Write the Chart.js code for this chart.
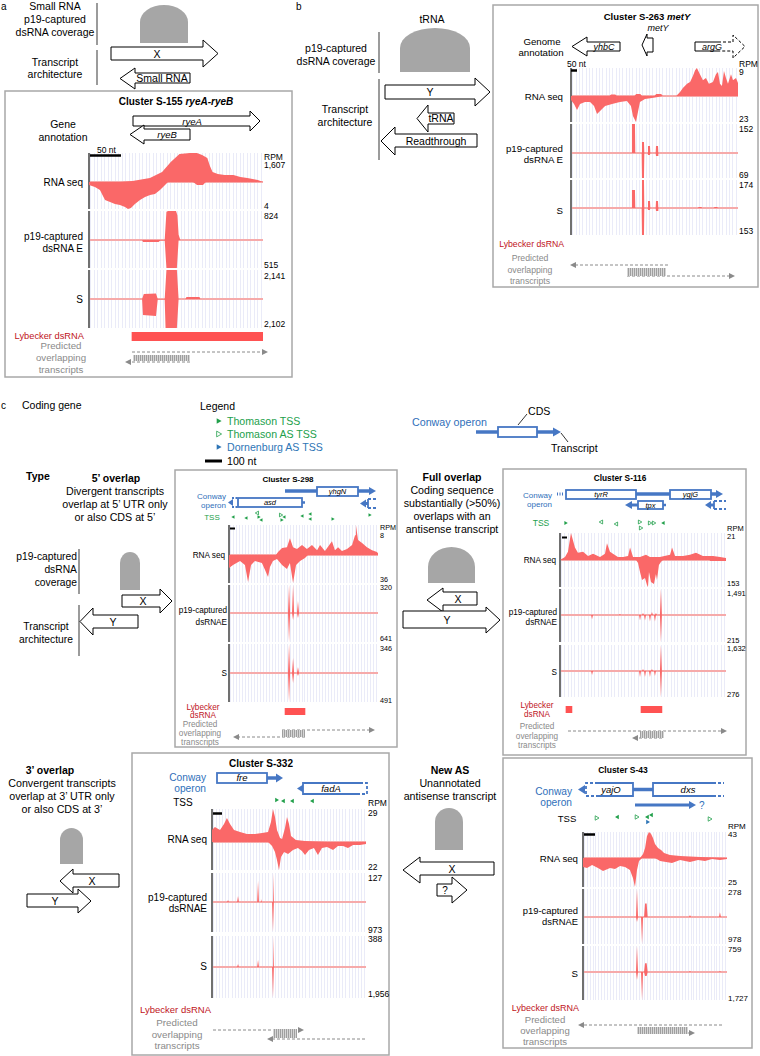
<!DOCTYPE html>
<html><head><meta charset="utf-8">
<script src="https://cdn.jsdelivr.net/npm/chart.js@4.4.1/dist/chart.umd.min.js"></script>
<style>
html,body{margin:0;padding:0;background:#fff}
body{width:760px;height:1056px;overflow:hidden;position:relative}
svg{position:absolute;left:0;top:0}
#t{z-index:5}
canvas{position:absolute;z-index:1}
</style></head><body>
<svg id="s" width="760" height="1056" xmlns="http://www.w3.org/2000/svg">
<defs><pattern id="h" width="2" height="4" patternUnits="userSpaceOnUse"><rect width="2" height="4" fill="#d6d6d6"/><rect width="1" height="4" fill="#9f9f9f"/></pattern></defs>
</svg>
<svg id="t" width="760" height="1056" xmlns="http://www.w3.org/2000/svg"></svg>
<script>
// ===================== DATA (position = % of cluster window, value = RPM) =====================
// S-155 ryeA-ryeB
const S155_RNA_P=[[0,0],[18,0],[25,55],[35,222],[42,554],[47,1108],[52,1550],[58,1607],[62,1607],[65,1496],[68,1330],[69.5,886],[71,554],[74,443],[78,388],[83,388],[87,277],[91,222],[97,111],[100,0]];
const S155_RNA_M=[[0,-0.44],[3.4,-0.74],[6.3,-1.19],[9.2,-2.67],[12.1,-2.96],[14.9,-3.26],[17.8,-3.41],[20.7,-3.7],[22.4,-4],[24.1,-3.85],[26.4,-3.26],[29.3,-2.67],[32.2,-2.22],[35.1,-1.93],[37.9,-1.78],[40.8,-1.19],[43.7,-0.44],[45.4,0],[59.8,0],[62.1,-0.44],[65.5,-0.44],[67.2,0],[100,0]];
const S155_E_P=[[0,0],[43.5,0],[44.5,800],[45.5,824],[50,824],[50.8,700],[51.5,150],[52.5,0],[100,0]];
const S155_E_M=[[0,0],[30.5,0],[31,-37],[40,-37],[41,-10],[43.5,-10],[44.5,-515],[50.5,-515],[51.5,0],[100,0]];
const S155_S_P=[[0,0],[30.5,0],[31.5,370],[38.5,400],[39.5,0],[43.5,0],[44.5,2141],[50.5,2141],[51.5,0],[55.5,0],[56,148],[63.5,148],[64,0],[100,0]];
const S155_S_M=[[0,0],[30.5,0],[31,-1160],[38.5,-1232],[39.5,-30],[43.5,-30],[44,-2102],[50.5,-2102],[51.5,0],[100,0]];
const S155_MAX=[1607,4,824,515,2141,2102];
const S155_LYB=[[24.7,100]];
// S-263 metY
const S263_RNA_P=[[0,0],[23,0],[24,0.5],[26.5,0.5],[27.5,0],[38,0],[39,0.64],[41.5,0.64],[42.5,0],[50,0],[51,0.64],[54,0.64],[55,0],[63,0],[65.3,1.3],[67,2.6],[69.5,3.9],[71.3,4.5],[73,6.4],[74.3,8.3],[75.4,9],[77.2,7],[79,5.1],[80.8,5.8],[82.6,3.9],[85,4.5],[86.8,7],[88,7.7],[89.2,3.9],[90.4,3.2],[91.6,8],[92.8,5.8],[94,3.9],[95.8,7],[97,5.1],[98.8,5.8],[100,4.2]];
const S263_RNA_M=[[0,-3.5],[1.8,-7.1],[3.6,-12.4],[5.4,-7.1],[8.4,-5.3],[11.4,-5.3],[13.8,-8.9],[15.6,-16],[17.4,-13.3],[20.4,-8.9],[24.6,-7.1],[29.3,-5.3],[33.5,-4.4],[35.9,-8.9],[37.1,-17.7],[38.9,-23],[40.1,-14.2],[41.3,-5.3],[44.3,-2.7],[48.5,-1.8],[52.1,-0.9],[54.5,0],[100,0]];
const S263_E_P=[[0,0],[36.3,0],[36.5,152],[38.3,152],[38.5,0],[42.3,0],[42.5,58],[43.7,58],[43.9,0],[45.9,0],[46.1,37],[47.3,37],[47.5,0],[50.7,0],[50.9,37],[52.1,37],[52.3,0],[100,0]];
const S263_E_M=[[0,0],[42.3,0],[42.5,-69],[43.7,-69],[43.9,0],[45.9,0],[46.1,-5.5],[47.3,-5.5],[47.5,0],[50.7,0],[50.9,-8.3],[52.1,-8.3],[52.3,0],[100,0]];
const S263_S_P=[[0,0],[36.3,0],[36.5,112],[38.3,112],[38.5,0],[42.3,0],[42.5,174],[43.7,174],[43.9,0],[45.9,0],[46.1,43],[47.3,43],[47.5,0],[50.7,0],[50.9,43],[52.1,43],[52.3,0],[76,0],[76.5,6],[78,6],[78.5,0],[85.5,0],[86,6],[87.5,6],[88,0],[100,0]];
const S263_S_M=[[0,0],[42.3,0],[42.5,-153],[43.7,-153],[43.9,0],[45.9,0],[46.1,-11],[47.3,-11],[47.5,0],[50.7,0],[50.9,-17],[52.1,-17],[52.3,0],[100,0]];
const S263_MAX=[9,23,152,69,174,153];
// S-298
const S298_RNA_P=[[0,0],[31.5,0],[32.9,0.8],[35.6,1.9],[38.9,2.1],[40.9,4.5],[43,2.1],[45.6,1.6],[49,2.7],[52.3,1.6],[55.7,2.7],[59.1,1.3],[61.1,2.7],[64.4,1.1],[69.1,3.7],[71.1,1.3],[73.2,2.1],[75.8,1.1],[79.2,1.6],[82.6,2.7],[84.6,5.3],[85.2,8],[86.6,4],[89.3,3.2],[92.6,2.1],[96,1.3],[99.3,0.8],[100,0.5]];
const S298_RNA_M=[[0,-16.7],[2.7,-12.9],[7.4,-7.7],[10.7,-12.9],[12.8,-34.7],[14.8,-12.9],[17.4,-7.7],[22.1,-10.3],[24.2,-19.3],[26.2,-28.3],[27.5,-15.4],[29.5,-7.7],[32.2,-5.1],[35.6,-12.9],[38.9,-18],[40.9,-10.3],[43,-36],[45,-12.9],[47.7,-7.7],[51,-3.9],[53,0],[100,0]];
const S298_E_P=[[0,0],[39.6,0],[40.3,320],[41,0],[42.3,0],[43,320],[43.7,0],[45.6,0],[46.3,137],[47,0],[100,0]];
const S298_E_M=[[0,0],[39.6,0],[40.3,-641],[41,0],[42.3,0],[43,-155],[43.7,0],[45.6,0],[46.3,-110],[47,0],[100,0]];
const S298_S_P=[[0,0],[39.6,0],[40.3,346],[41,0],[42.3,0],[43,179],[43.7,0],[45.6,0],[46.3,72],[47,0],[100,0]];
const S298_S_M=[[0,0],[39.6,0],[40.3,-491],[41,0],[42.3,0],[43,-170],[43.7,0],[45.6,0],[46.3,-51],[47,0],[100,0]];
const S298_MAX=[8,36,320,641,346,491];
const S298_LYB=[[37.6,51]];
// S-116
const S116_RNA_P=[[0,0],[3,2.4],[4.8,6.5],[6.6,21],[9,9.7],[10.8,5.7],[13.9,6.5],[16.9,3.2],[19.9,4.9],[24.1,2.4],[27.1,4.9],[28.3,13],[30.1,6.5],[31.9,4.9],[34.9,2.4],[38,2.4],[41,3.2],[42.2,9.7],[44,2.4],[48.2,2.4],[51.8,4],[54.2,2.4],[60.2,2.4],[66.3,4],[67.5,9.7],[69.3,3.2],[74.1,3.2],[78.3,4],[81.9,5.7],[86.1,3.2],[92.2,3.2],[96.4,2.4],[100,1.6]];
const S116_RNA_M=[[0,0],[45.8,0],[47,-17],[48.2,-68],[49.4,-113],[51.2,-102],[52.4,-142],[53,-153],[53.6,-68],[54.8,-125],[56.6,-136],[57.8,-79],[58.4,-113],[59.6,-28],[60.8,-11],[62,0],[90,0],[90.5,-6],[100,-6]];
const S116_E_P=[[0,0],[35.5,0],[36.1,60],[36.7,0],[49.4,0],[50,119],[50.6,0],[54.8,0],[55.4,179],[56,0],[57.2,0],[57.8,119],[58.4,0],[60.2,0],[60.8,1491],[61.4,0],[100,0]];
const S116_E_M=[[0,0],[18.7,0],[19.3,-34],[19.9,0],[47.6,0],[48.2,-43],[48.8,0],[50.6,0],[51.2,-43],[51.8,0],[53.6,0],[54.2,-52],[54.8,0],[56.6,0],[57.2,-52],[57.8,0],[60.2,0],[60.8,-215],[61.4,0],[100,0]];
const S116_S_P=[[0,0],[49.4,0],[50,130],[50.6,0],[54.8,0],[55.4,130],[56,0],[60.2,0],[60.8,1632],[61.4,0],[100,0]];
const S116_S_M=[[0,0],[18.7,0],[19.3,-42],[19.9,0],[47.6,0],[48.2,-64],[48.8,0],[50.6,0],[51.2,-64],[51.8,0],[53.6,0],[54.2,-64],[54.8,0],[56.6,0],[57.2,-53],[57.8,0],[60.2,0],[60.8,-276],[61.4,0],[100,0]];
const S116_MAX=[21,153,1491,215,1632,276];
const S116_LYB=[[3.6,7.2],[48.8,61.4]];
// S-332
const S332_RNA_P=[[0,10.5],[1.9,13.2],[5.2,10.5],[7.8,15.8],[9.7,21.1],[11.7,15.8],[14.3,10.5],[18.2,8.8],[22.7,7],[27.9,7],[32.5,7.9],[36.4,8.8],[38.3,17.6],[39.6,29],[40.9,22],[42.2,10.5],[44.2,3.5],[45.5,2.6],[47.4,12.3],[48.7,22],[50,15.8],[51.3,5.3],[54.5,1.8],[60.4,0.9],[66.9,0.4],[75,0],[100,0]];
const S332_RNA_M=[[0,0],[36.4,0],[39,-3.1],[40.9,-7.9],[42.2,-14.1],[43.5,-22],[44.8,-11.8],[46.8,-7.9],[49.4,-9.4],[52.6,-6.3],[55.8,-4.7],[58.4,-7.1],[60.4,-10.2],[63,-6.3],[66.2,-4.7],[68.8,-10.2],[71.4,-4.7],[74.7,-3.9],[78.6,-6.3],[81.8,-3.1],[85.1,-3.1],[88.3,-4.7],[91.6,-2.4],[96.1,-2.4],[100,-1.6]];
const S332_E_P=[[0,0],[9.8,0],[10.4,9],[11,0],[16.3,0],[16.9,26],[17.5,0],[29.3,0],[29.9,92],[30.5,0],[31.2,0],[31.8,13],[32.4,0],[39,0],[39.6,127],[40.2,0],[100,0]];
const S332_E_M=[[0,0],[39,0],[39.6,-973],[40.2,0],[100,0]];
const S332_S_P=[[0,0],[16.3,0],[16.9,38],[17.5,0],[29.3,0],[29.9,88],[30.5,0],[39,0],[39.6,388],[40.2,0],[100,0]];
const S332_S_M=[[0,0],[39,0],[39.6,-1956],[40.2,0],[100,0]];
const S332_MAX=[29,22,127,973,388,1956];
// S-43
const S43_RNA_P=[[0,0],[39.6,0],[41.7,6.6],[43.1,16.5],[44.4,36],[45.8,43],[47.2,40],[48.6,33],[50,23],[52.1,16.5],[54.2,13.2],[56.3,8.3],[60.4,5],[67.4,3.3],[81.3,1.6],[90,0.8],[100,0]];
const S43_RNA_M=[[0,-7.8],[2.8,-8.6],[6.3,-6],[10.4,-8.6],[13.9,-11.2],[18.8,-8.6],[22.2,-9.5],[25.7,-6.9],[29.2,-7.8],[32.6,-10.3],[34.7,-17.2],[36.1,-25],[37.5,-10.3],[38.9,-2.6],[41,0],[50,0],[53.5,-2.6],[61.8,-4.3],[67.4,-1.7],[74.3,-3.4],[79.9,-1.7],[84.7,-2.6],[89.6,-0.9],[95.1,-1.7],[100,-0.9]];
const S43_E_P=[[0,0],[36.8,0],[37.5,278],[38.2,0],[42.4,0],[43.1,134],[44.2,134],[44.9,0],[73.6,0],[74.3,19],[75,0],[94.4,0],[95.1,48],[95.8,0],[100,0]];
const S43_E_M=[[0,0],[36.8,0],[37.5,-181],[38.2,0],[40.3,0],[41,-978],[41.7,0],[100,0]];
const S43_S_P=[[0,0],[36.8,0],[37.5,759],[38.2,0],[42.4,0],[43.1,253],[44.2,253],[44.9,0],[73.6,0],[74.3,28],[75,0],[94.4,0],[95.1,28],[95.8,0],[100,0]];
const S43_S_M=[[0,0],[36.8,0],[37.5,-494],[38.2,0],[40.3,0],[41,-1727],[41.7,0],[42.4,0],[43.1,-247],[44.2,-247],[44.9,0],[100,0]];
const S43_MAX=[43,25,278,978,759,1727];

// ===================== STYLE =====================
const FONT="'Liberation Sans', Arial, Helvetica, sans-serif";
const FILL='#fa6868', ZERO='#f6aaaa', GRIDC='#eaebf8', AXIS='#707070';
const RED='#c0141c', GREY='#8a8a8a', GREEN='#22a04b', BLUET='#2f6fba', OPB='#4677c4', DBLUE='#2e75b6', DOME='#a6a6a6', BOXC='#a8a8a8', LYBC='#ff5252';
const fmt=v=>v.toLocaleString('en-US');

// ===================== SVG helpers =====================
const SV=document.getElementById('s'), TOP=document.getElementById('t'), NS='http://www.w3.org/2000/svg';
function el(tag,a,p){const e=document.createElementNS(NS,tag);for(const k in a)e.setAttribute(k,a[k]);(p||SV).appendChild(e);return e;}
function T(x,y,html,o={}){const e=el('text',{x,y,'font-size':o.s||10,'font-weight':o.w||'normal','font-style':o.i?'italic':'normal','text-anchor':o.a||'start',fill:o.c||'#000','font-family':FONT});e.innerHTML=html;return e;}
function L(x1,y1,x2,y2,c='#000',w=1,d,p){const a={x1,y1,x2,y2,stroke:c,'stroke-width':w};if(d)a['stroke-dasharray']=d;el('line',a,p);}
function SB(x1,x2,y,w){L(x1,y,x2,y,'#000',w,null,TOP);}
function P(d,a){a.d=d;el('path',a);}
function BOX(x,y,w,h){el('rect',{x,y,width:w,height:h,fill:'none',stroke:BOXC,'stroke-width':1.5});}
function rA(x0,x1,hx,bt,bb,ht,hb){const m=(ht+hb)/2;P(`M${x0},${bt}H${hx}V${ht}L${x1},${m}L${hx},${hb}V${bb}H${x0}Z`,{fill:'#fff',stroke:'#000','stroke-width':1});}
function lA(x0,x1,hx,bt,bb,ht,hb){const m=(ht+hb)/2;P(`M${x1},${bt}H${hx}V${ht}L${x0},${m}L${hx},${hb}V${bb}H${x1}Z`,{fill:'#fff',stroke:'#000','stroke-width':1});}
function dome(x0,x1,t,b,ry){const rx=(x1-x0)/2;P(`M${x0},${b}V${t+ry}A${rx},${ry} 0 0 1 ${x1},${t+ry}V${b}Z`,{fill:DOME});}
function dA(xs,xe,y){const d=Math.sign(xe-xs);L(xs,y,xe-d*5,y,GREY,1,'3,2');P(`M${xe},${y}L${xe-d*6},${y-3}L${xe-d*6},${y+3}Z`,{fill:GREY});}
function hatch(x,y,w,h){el('rect',{x,y,width:w,height:h,fill:'url(#h)'});}
function tri(x,y,dir,t,k=1){const d=dir==='r'?1:-1,c=t==='b'?DBLUE:GREEN;const p=`M${x-d*1.8*k},${y-2.2*k}L${x+d*2*k},${y}L${x-d*1.8*k},${y+2.2*k}Z`;if(t==='h')P(p,{fill:'#fff',stroke:c,'stroke-width':0.8});else P(p,{fill:c});}
function OL(x1,x2,y,w=3.5,d){L(x1,y,x2,y,OPB,w,d);}
function OB(x,y,w,h,lab,fs){el('rect',{x,y,width:w,height:h,fill:'#fff',stroke:OPB,'stroke-width':1.8});if(lab)T(x+w/2,y+h/2+fs*0.36,lab,{a:'middle',s:fs,i:1});}
function OH(tip,y,dir,len=7,half=4){const d=dir==='r'?1:-1;P(`M${tip},${y}L${tip-d*len},${y-half}L${tip-d*len},${y+half}Z`,{fill:OPB});}

// ===================== Chart helpers =====================
function track(box,Pd,Md,pMax,mMax){
  const [l,t,r,b,z]=box;const c=document.createElement('canvas');
  c.width=r-l+1;c.height=b-t;c.style.left=(l-1)+'px';c.style.top=t+'px';document.body.appendChild(c);
  const pPx=z-t,mPx=b-z;
  const ds=(arr,ax)=>({data:arr.map(p=>({x:p[0],y:p[1]})),yAxisID:ax,fill:'origin',backgroundColor:FILL,borderWidth:0,pointRadius:0,tension:0});
  new Chart(c,{type:'line',data:{datasets:[ds(Pd,'yP'),ds(Md,'yM')]},
    options:{responsive:false,animation:false,events:[],devicePixelRatio:1,
      layout:{padding:{left:1,right:0,top:0,bottom:0}},
      plugins:{legend:{display:false},tooltip:{enabled:false}},
      scales:{
        x:{type:'linear',min:0,max:100,ticks:{display:false,autoSkip:false},grid:{color:GRIDC,drawTicks:false,lineWidth:1},border:{display:false},
           afterBuildTicks:s=>{const tk=[];for(let v=1;v<100;v+=2)tk.push({value:v});s.ticks=tk;}},
        yP:{type:'linear',position:'left',z:1,min:-pMax*mPx/pPx,max:pMax,ticks:{display:false},
           grid:{drawTicks:false,color:ctx=>(ctx.tick&&ctx.tick.value===0)?ZERO:'rgba(0,0,0,0)',lineWidth:2},
           border:{display:true,color:AXIS,width:2},afterBuildTicks:s=>{s.ticks=[{value:0}];}},
        yM:{type:'linear',display:false,min:-mMax,max:mMax*pPx/mPx}
      }}});
}
function lyb(l,r,t,b,segs){
  const c=document.createElement('canvas');c.width=r-l;c.height=b-t;c.style.left=l+'px';c.style.top=t+'px';document.body.appendChild(c);
  new Chart(c,{type:'bar',data:{labels:['L'],datasets:segs.map(s=>({data:[[s[0],s[1]]],backgroundColor:LYBC,grouped:false,barPercentage:1,categoryPercentage:1,borderWidth:0}))},
    options:{indexAxis:'y',responsive:false,animation:false,events:[],devicePixelRatio:1,layout:{padding:0},
      plugins:{legend:{display:false},tooltip:{enabled:false}},
      scales:{x:{type:'linear',display:false,min:0,max:100},y:{display:false}}}});
}
function panel(boxes,data,max,rx,ry,rs){
  for(let i=0;i<3;i++)track(boxes[i],data[i][0],data[i][1],max[2*i],max[2*i+1]);
  T(rx,ry[0],'RPM',{s:rs});
  for(let i=0;i<6;i++)T(rx,ry[i+1],fmt(max[i]),{s:rs});
}

// ===================== PANEL a =====================
T(1,10,'a',{s:10});
T(55,10,'Small RNA',{a:'middle',s:10.5});T(55,23,'p19-captured',{a:'middle',s:10.5});T(55,36,'dsRNA coverage',{a:'middle',s:10.5});
T(55,66,'Transcript',{a:'middle',s:10.5});T(55,78,'architecture',{a:'middle',s:10.5});
L(97,3,97,45,'#7a7a7a',1.5);L(97,50,97,85,'#7a7a7a',1.5);
dome(140,188,5,43,17);
rA(111,218,203,47,60,40,67);T(157,58,'X',{a:'middle',s:10.5});
lA(120,190,135,73,83,68,89);T(162,82,'Small RNA',{a:'middle',s:10.5});
BOX(5,91,287,286);
T(176,105,'Cluster S-155 <tspan font-style="italic">ryeA-ryeB</tspan>',{a:'middle',s:10,w:'bold'});
T(63,128,'Gene',{a:'middle',s:10.5});T(63,141,'annotation',{a:'middle',s:10.5});
rA(133,260,250,116,126,111,131);T(192,124.5,'ryeA',{a:'middle',s:9.5,i:1});
lA(130,190,144,129,140,125,144);T(167,138,'ryeB',{a:'middle',s:9.5,i:1});
SB(90,121,155.5,2.5);T(97,153,'50 nt',{s:8.5});
T(83,186,'RNA seq',{a:'end',s:10});T(83,240,'p19-captured',{a:'end',s:10});T(83,252,'dsRNA E',{a:'end',s:10});T(83,303,'S',{a:'end',s:10});
T(84,339,'Lybecker dsRNA',{a:'end',s:9.3,c:RED});
T(61,349,'Predicted',{a:'middle',s:9.7,c:GREY});T(61,361,'overlapping',{a:'middle',s:9.7,c:GREY});T(61,373,'transcripts',{a:'middle',s:9.7,c:GREY});
dA(132,268,352);dA(190,125,362);hatch(133,355,57,6);
panel([[89,153,263,209,182],[89,211,263,268,240],[89,270,263,328,299]],
  [[S155_RNA_P,S155_RNA_M],[S155_E_P,S155_E_M],[S155_S_P,S155_S_M]],S155_MAX,264,[160,168,209,219,268,279,327],8.5);
lyb(89,263,332,341,S155_LYB);

// ===================== PANEL b =====================
T(296,10,'b',{s:10});
T(432,23,'tRNA',{a:'middle',s:10.5});
T(336,52,'p19-captured',{a:'middle',s:10.5});T(336,65,'dsRNA coverage',{a:'middle',s:10.5});
T(345,113,'Transcript',{a:'middle',s:10.5});T(345,126,'architecture',{a:'middle',s:10.5});
L(379,32,379,73,'#7a7a7a',1.5);L(379,79,379,160,'#7a7a7a',1.5);
dome(400,470,28,72,20);
rA(385,490,475,85,99,78,106);T(430,96,'Y',{a:'middle',s:10.5});
lA(417,454,428,113,124,105,132);T(441,122,'tRNA',{a:'middle',s:10.5});
lA(381,477,395,134,147,127,155);T(436,145,'Readthrough',{a:'middle',s:10.5});
BOX(493,5,265,282);
T(647,20,'Cluster S-263 <tspan font-style="italic">metY</tspan>',{a:'middle',s:9.5,w:'bold'});
T(658,31,'metY',{a:'middle',s:9,i:1});
T(542,45,'Genome',{a:'middle',s:9.7});T(541,56,'annotation',{a:'middle',s:9.7});
lA(572,620,587,42,51,37,56);T(604,50,'yhbC',{a:'middle',s:9,i:1});
lA(642,653,647,38,52,34,56);
P('M718,42H695V51H718',{fill:'none',stroke:'#000','stroke-width':1});
P('M718,42H733V35L745,46.5L733,58V51H718',{fill:'none',stroke:'#000','stroke-width':1,'stroke-dasharray':'3,2'});
T(712,50,'argG',{a:'middle',s:9,i:1});
SB(571,577,70.5,2.5);T(567,67,'50 nt',{s:8.5});
T(563,100,'RNA seq',{a:'end',s:9.7});T(563,152,'p19-captured',{a:'end',s:9.7});T(563,163,'dsRNA E',{a:'end',s:9.7});T(563,214,'S',{a:'end',s:9.7});
T(564,247,'Lybecker dsRNA',{a:'end',s:8.7,c:RED});
T(530,261,'Predicted',{a:'middle',s:8.7,c:GREY});T(530,273,'overlapping',{a:'middle',s:8.7,c:GREY});T(530,284,'transcripts',{a:'middle',s:8.7,c:GREY});
dA(668,570,265);dA(627,735,276);hatch(627,268,39,8);
panel([[571,68,738,122,96],[571,124,738,178,153],[571,180,738,235,208]],
  [[S263_RNA_P,S263_RNA_M],[S263_E_P,S263_E_M],[S263_S_P,S263_S_M]],S263_MAX,739,[67,75,122,132,178,188,234],8.5);

// ===================== PANEL c header =====================
T(1,409,'c',{s:10});T(22,409,'Coding gene',{s:10.5});
T(200,410,'Legend',{s:10.5});
tri(219,421,'r','f',1.3);tri(219,434,'r','h',1.3);tri(219,447,'r','b',1.3);
T(227,425,'Thomason TSS',{s:10.6,c:GREEN});T(227,438,'Thomason AS TSS',{s:10.6,c:GREEN});T(227,451,'Dornenburg AS TSS',{s:10.6,c:DBLUE});
L(205,461,222,461,'#000',3);T(227,465,'100 nt',{s:10.6});
T(412,426,'Conway operon',{s:10.7,c:BLUET});
OL(476,498,432);OB(498,427,39,10);OL(537,554,432);OH(561,432,'r',8,4.5);
L(518,425,527,414,'#000',0.8);T(528,415,'CDS',{s:10.6});
L(561,433,568,442,'#000',0.8);T(551,452,'Transcript',{s:10.6});
T(26,480,'Type',{s:10.5,w:'bold'});

// 5' overlap schematic
T(116,482,'5’ overlap',{a:'middle',s:10.5,w:'bold'});
T(115,495,'Divergent transcripts',{a:'middle',s:10.7});T(115,508,'overlap at 5’ UTR only',{a:'middle',s:10.7});T(115,521,'or also CDS at 5’',{a:'middle',s:10.7});
T(77,560,'p19-captured',{a:'end',s:10.3});T(77,573,'dsRNA',{a:'end',s:10.3});T(77,586,'coverage',{a:'end',s:10.3});
T(46,630,'Transcript',{a:'middle',s:10.3});T(46,643,'architecture',{a:'middle',s:10.3});
L(79,549,79,594,'#7a7a7a',1.5);L(79,605,79,656,'#7a7a7a',1.5);
dome(120,140,552,590,11);
rA(122,172,160,595,607,589,613);T(143,605,'X',{a:'middle',s:10.5});
lA(80,138,93,615,628,608,635);T(113,626,'Y',{a:'middle',s:10.5});

// Full overlap schematic
T(452,481,'Full overlap',{a:'middle',s:10.5,w:'bold'});
T(452,494,'Coding sequence',{a:'middle',s:10.7});T(452,507,'substantially (&gt;50%)',{a:'middle',s:10.7});T(452,520,'overlaps with an',{a:'middle',s:10.7});T(452,533,'antisense transcript',{a:'middle',s:10.7});
dome(428,475,547,583,20);
lA(427,477,443,592,605,588,612);T(458,603,'X',{a:'middle',s:10.5});
rA(403,500,486,611,628,607,633);T(447,624,'Y',{a:'middle',s:10.5});

// 3' overlap schematic
T(50,774,'3’ overlap',{a:'middle',s:10.5,w:'bold'});
T(62,787,'Convergent transcripts',{a:'middle',s:10.7});T(62,800,'overlap at 3’ UTR only',{a:'middle',s:10.7});T(62,813,'or also CDS at 3’',{a:'middle',s:10.7});
dome(60,83,828,864,12);
lA(60,119,73,874,887,869,893);T(92,885,'X',{a:'middle',s:10.5});
rA(27,91,78,894,907,889,913);T(55,905,'Y',{a:'middle',s:10.5});

// New AS schematic
T(450,774,'New AS',{a:'middle',s:10.5,w:'bold'});
T(450,787,'Unannotated',{a:'middle',s:10.7});T(450,800,'antisense transcript',{a:'middle',s:10.7});
dome(435,463,808,850,14);
lA(403,494,420,862,875,857,883);T(452,873,'X',{a:'middle',s:10.5});
rA(437,467,452,884,896,877,903);T(445,894,'?',{a:'middle',s:10});

// ===================== S-298 =====================
BOX(175,470,222,277);
T(288,482,'Cluster S-298',{a:'middle',s:8,w:'bold'});
T(226,499,'Conway',{a:'end',s:8,c:BLUET});T(226,508,'operon',{a:'end',s:8,c:BLUET});
OH(228,502.5,'l',5,3.5);L(232,498,238,498,OPB,1.8,'2,1.5');L(232,507,238,507,OPB,1.8,'2,1.5');OB(238,498,64,9,'asd',7.5);OL(302,305,502.5,2.5);
OL(285,317,491);OB(317,487,41,9,'yhgN',7.5);OL(358,369,491);OH(376,491,'r',7,4);
OH(360,503.5,'l',6,4);OL(364,368,503.5,3);L(368,499,368,508,OPB,1.8);L(368,499,378,499,OPB,1.8,'3,2');L(368,508,378,508,OPB,1.8,'3,2');
T(212,520,'TSS',{a:'middle',s:8,c:GREEN});
[[233,517,'l','f'],[246,518,'l','f'],[257,513,'l','h'],[259,517,'r','f'],[261,520,'l','f'],[281,515,'r','h'],[284,517,'l','f'],[282,520,'r','f'],[302,516,'l','f'],[310,514,'l','f'],[310,519,'l','f'],[333,519,'r','f'],[370,515,'r','f']].forEach(a=>tri(a[0],a[1],a[2],a[3],0.85));
SB(230,235,528.5,2);
T(225,558,'RNA seq',{a:'end',s:8.2});T(227,613,'p19-captured',{a:'end',s:8.2});T(227,625,'dsRNAE',{a:'end',s:8.2});T(227,676,'S',{a:'end',s:8.2});
T(203,710,'Lybecker',{a:'middle',s:8.2,c:RED});T(203,718,'dsRNA',{a:'middle',s:8.2,c:RED});
T(200,727,'Predicted',{a:'middle',s:8.2,c:GREY});T(200,736,'overlapping',{a:'middle',s:8.2,c:GREY});T(200,745,'transcripts',{a:'middle',s:8.2,c:GREY});
dA(282,375,730);dA(305,233,737);hatch(282,730,23,7);
panel([[229,525,378,583,555],[229,585,378,642,613],[229,644,378,702,673]],
  [[S298_RNA_P,S298_RNA_M],[S298_E_P,S298_E_M],[S298_S_P,S298_S_M]],S298_MAX,380,[530,538,582,590,641,651,703],7.2);
lyb(229,378,708,715,S298_LYB);

// ===================== S-116 =====================
BOX(503,469,243,286);
T(620,481,'Cluster S-116',{a:'middle',s:8.3,w:'bold'});
T(552,498,'Conway',{a:'end',s:8,c:BLUET});T(552,507,'operon',{a:'end',s:8,c:BLUET});
OL(557,563,494,3,'1,1.5');OB(566,490,70,9,'tyrR',7.5);OL(636,670,494);OB(670,490,41,9,'ygjG',7.5);OL(711,717,494);OH(723,494,'r',7,4);
OH(625,505,'l',7,4);OL(631,638,505,3);OB(638,501,25,8,'tpx',7.5);OL(663,666,505,2.5);
OH(705,505,'l',6,4);OL(710,714,505,3);L(714,501,714,509,OPB,1.8);L(714,501,726,501,OPB,1.8,'3,2');L(714,509,726,509,OPB,1.8,'3,2');
T(541,526,'TSS',{a:'middle',s:8.5,c:GREEN});
[[566,523,'r','f'],[601,522,'l','h'],[616,524,'l','h'],[640,522,'r','h'],[641,528,'r','h'],[650,523,'r','h'],[654,523,'r','h'],[663,523,'l','f']].forEach(a=>tri(a[0],a[1],a[2],a[3],0.9));
SB(562,567,537.5,2);
T(556,563,'RNA seq',{a:'end',s:8.2});T(557,615,'p19-captured',{a:'end',s:8.2});T(557,625,'dsRNAE',{a:'end',s:8.2});T(557,675,'S',{a:'end',s:8.2});
T(537,708,'Lybecker',{a:'middle',s:8.2,c:RED});T(537,717,'dsRNA',{a:'middle',s:8.2,c:RED});
T(537,729,'Predicted',{a:'middle',s:8.2,c:GREY});T(537,739,'overlapping',{a:'middle',s:8.2,c:GREY});T(537,748,'transcripts',{a:'middle',s:8.2,c:GREY});
dA(568,727,731);dA(662,632,738);hatch(640,731,24,7);
panel([[560,533,726,587,560],[560,589,726,642,615],[560,645,726,697,671]],
  [[S116_RNA_P,S116_RNA_M],[S116_E_P,S116_E_M],[S116_S_P,S116_S_M]],S116_MAX,727,[531,539,586,596,643,651,697],7.5);
lyb(560,726,706,713,S116_LYB);

// ===================== S-332 =====================
BOX(132,753,257,302);
T(261,767,'Cluster S-332',{a:'middle',s:10,w:'bold'});
T(206,781,'Conway',{a:'end',s:10.2,c:BLUET});T(206,792,'operon',{a:'end',s:10.2,c:BLUET});
OB(217,773,50,10,'fre',9.5);OL(267,276,778);OH(283,778,'r',7,4.5);
OH(297,788.5,'l',7,4.5);
P('M360,783H303V794H360',{fill:'#fff',stroke:OPB,'stroke-width':1.8});
P('M360,783H367V794H360',{fill:'none',stroke:OPB,'stroke-width':1.8,'stroke-dasharray':'3,2'});
T(331,792,'fadA',{a:'middle',s:9.5,i:1});
T(183,806,'TSS',{a:'middle',s:10});
[[277,800,'r','f'],[283,801,'l','f'],[292,801,'l','f'],[312,801,'l','f']].forEach(a=>tri(...a));
SB(213,222,813.5,2.5);
T(207,843,'RNA seq',{a:'end',s:10});T(207,901,'p19-captured',{a:'end',s:10});T(207,912,'dsRNAE',{a:'end',s:10});T(207,970,'S',{a:'end',s:10});
T(211,1013,'Lybecker dsRNA',{a:'end',s:9.5,c:RED});
T(177,1026,'Predicted',{a:'middle',s:9.8,c:GREY});T(177,1038,'overlapping',{a:'middle',s:9.8,c:GREY});T(177,1049,'transcripts',{a:'middle',s:9.8,c:GREY});
dA(213,304,1030);dA(365,267,1039);hatch(273,1029,24,9);
panel([[212,809,366,870,842],[212,873,366,932,902],[212,936,366,998,967]],
  [[S332_RNA_P,S332_RNA_M],[S332_E_P,S332_E_M],[S332_S_P,S332_S_M]],S332_MAX,368,[806,816,870,881,933,942,997],8.5);

// ===================== S-43 =====================
BOX(503,758,249,290);
T(623,773,'Cluster S-43',{a:'middle',s:8.5,w:'bold'});
T(572,795,'Conway',{a:'end',s:10.2,c:BLUET});T(572,806,'operon',{a:'end',s:10.2,c:BLUET});
OH(578,789.5,'l',7,4.5);
P('M598,783H586V796H598',{fill:'none',stroke:OPB,'stroke-width':1.8,'stroke-dasharray':'3,2'});
P('M598,783H633V796H598',{fill:'#fff',stroke:OPB,'stroke-width':1.8});
T(611,793,'yajO',{a:'middle',s:9.5,i:1});
OL(633,653,789.5);
P('M713,783H653V796H713',{fill:'#fff',stroke:OPB,'stroke-width':1.8});
P('M713,783H724M713,796H724',{fill:'none',stroke:OPB,'stroke-width':1.8,'stroke-dasharray':'3,2'});
T(688,793,'dxs',{a:'middle',s:9.5,i:1});
OL(635,690,805,3);OH(696,805,'r',7,4);T(699,809,'?',{s:10,c:BLUET});
T(567,822,'TSS',{a:'middle',s:9.5});
[[597,818,'r','h'],[617,817,'l','f'],[637,817,'r','h'],[647,817,'l','f'],[651,815,'l','f'],[648,822,'r','b'],[710,819,'r','h']].forEach(a=>tri(...a));
SB(584,595,834.5,2.5);
T(578,862,'RNA seq',{a:'end',s:9.7});T(578,914,'p19-captured',{a:'end',s:9.4});T(578,925,'dsRNAE',{a:'end',s:9.4});T(578,977,'S',{a:'end',s:9.7});
T(579,1011,'Lybecker dsRNA',{a:'end',s:9,c:RED});
T(545,1023,'Predicted',{a:'middle',s:9.6,c:GREY});T(545,1034,'overlapping',{a:'middle',s:9.6,c:GREY});T(545,1045,'transcripts',{a:'middle',s:9.6,c:GREY});
dA(722,578,1025);dA(637,695,1033);hatch(637,1027,51,7);
panel([[583,832,727,887,858],[583,889,727,944,917],[583,946,727,1000,972]],
  [[S43_RNA_P,S43_RNA_M],[S43_E_P,S43_E_M],[S43_S_P,S43_S_M]],S43_MAX,728,[829,837,885,895,942,952,1001],8);
</script>
</body></html>
